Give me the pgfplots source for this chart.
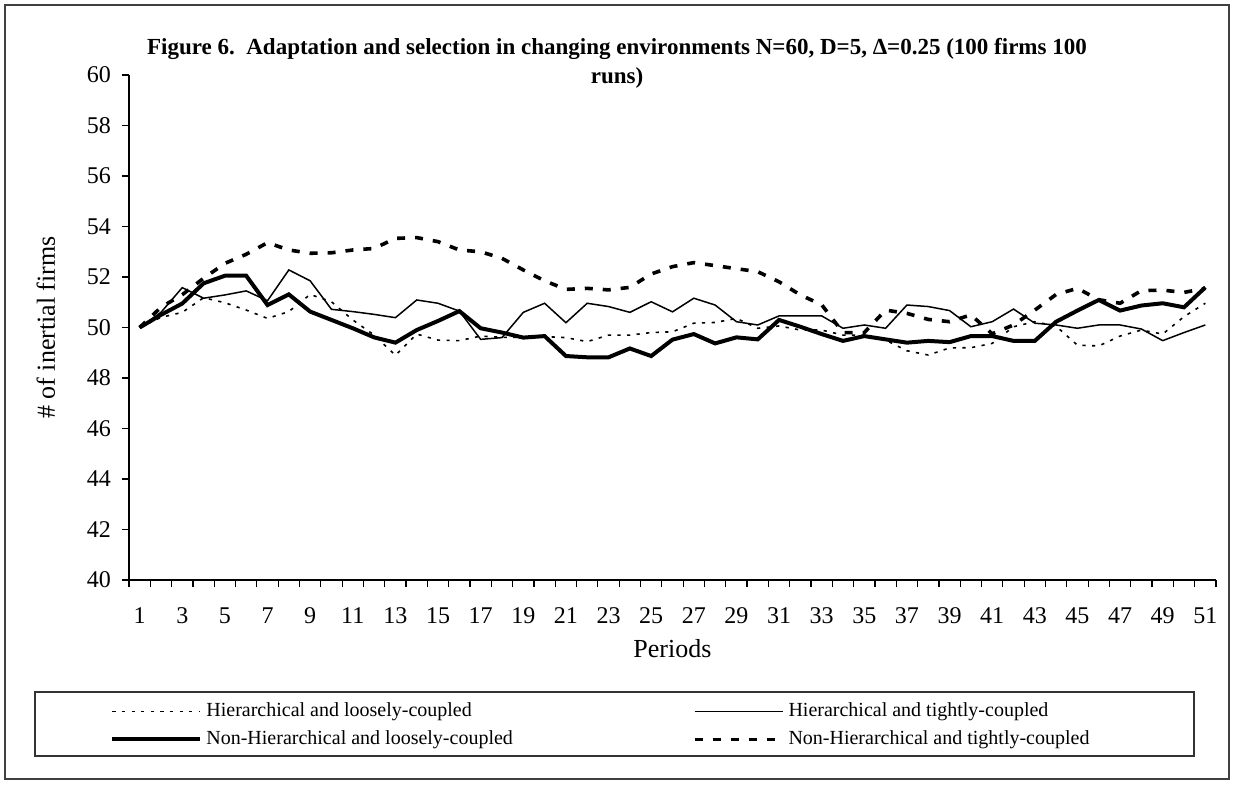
\documentclass[border=0pt]{standalone}
\usepackage{pgfplots}
\pgfplotsset{compat=1.18}
\usepackage{pgfplotstable}
\usepackage{fontspec}
\setmainfont{Liberation Serif}

\pgfplotstableread{
p hl ht nl nt
1 50.00 50.00 50.00 50.00
2 50.40 50.60 50.50 50.80
3 50.60 51.58 50.95 51.30
4 51.18 51.16 51.75 51.95
5 50.98 51.29 52.05 52.54
6 50.69 51.45 52.05 52.90
7 50.36 51.06 50.89 53.36
8 50.63 52.28 51.31 53.07
9 51.31 51.85 50.63 52.94
10 51.02 50.72 50.30 52.96
11 50.30 50.63 49.97 53.07
12 49.70 50.52 49.61 53.13
13 48.90 50.39 49.40 53.53
14 49.74 51.09 49.90 53.56
15 49.50 50.96 50.26 53.40
16 49.48 50.65 50.65 53.07
17 49.66 49.53 49.97 53.00
18 49.61 49.60 49.80 52.74
19 49.61 50.60 49.60 52.28
20 49.64 50.96 49.66 51.85
21 49.60 50.19 48.87 51.51
22 49.44 50.96 48.82 51.55
23 49.70 50.83 48.82 51.49
24 49.70 50.60 49.17 51.59
25 49.80 51.02 48.87 52.12
26 49.83 50.62 49.52 52.41
27 50.17 51.16 49.74 52.57
28 50.20 50.89 49.37 52.45
29 50.36 50.23 49.61 52.33
30 49.97 50.10 49.53 52.21
31 50.06 50.46 50.30 51.81
32 49.90 50.46 50.03 51.29
33 49.90 50.46 49.74 50.90
34 49.70 49.97 49.47 49.80
35 49.70 50.10 49.66 49.80
36 49.50 49.97 49.53 50.69
37 49.08 50.89 49.40 50.56
38 48.91 50.83 49.47 50.32
39 49.19 50.67 49.42 50.23
40 49.20 50.03 49.66 50.50
41 49.37 50.23 49.66 49.75
42 50.03 50.73 49.47 50.10
43 50.23 50.17 49.47 50.69
44 50.05 50.10 50.23 51.31
45 49.30 49.97 50.67 51.55
46 49.27 50.10 51.09 51.10
47 49.66 50.10 50.67 50.96
48 49.90 49.94 50.87 51.46
49 49.74 49.48 50.96 51.48
50 50.43 49.80 50.80 51.39
51 50.96 50.10 51.59 51.55
}\datatable

\begin{document}
\begin{tikzpicture}
\useasboundingbox (-64.5pt,-102pt) rectangle (552pt,290pt);
\draw[line width=0.9pt, black!75] (-62pt,-99.5pt) rectangle (550pt,287.5pt);
\draw[line width=0.7pt, black!80] (-47pt,-56pt) rectangle (532.5pt,-88pt);
\node[font=\bfseries\fontsize{11.5}{13}\selectfont] at (244pt,265.5pt) {Figure 6.\ \ Adaptation and selection in changing environments N=60, D=5, Δ=0.25 (100 firms 100};
\node[font=\bfseries\fontsize{11.5}{13}\selectfont] at (244pt,251pt) {runs)};
\begin{axis}[
  scale only axis,
  width=543.5pt, height=252.5pt,
  xmin=0.5, xmax=51.5, ymin=40, ymax=60,
  axis x line*=bottom, axis y line*=left,
  axis line style={line width=0.6pt},
  xtick={1,3,...,51},
  minor xtick={0.5,1.5,...,51.5},
  ytick={40,42,...,60},
  minor ytick={40,42,...,60},
  major tick length=0pt, minor tick length=3.5pt,
  tick align=outside,
  tick style={black, line width=0.6pt},
  /pgf/number format/assume math mode=true,
  ticklabel style={font=\fontsize{12}{14}\selectfont},
  xticklabel style={yshift=-10.5pt},
  yticklabel style={xshift=-5.5pt},
  xlabel={Periods},
  ylabel={\# of inertial firms},
  label style={font=\fontsize{13}{15}\selectfont},
  xlabel style={yshift=-1pt},
  ylabel style={yshift=9pt},
  legend columns=2,
  legend style={draw=none, fill=none, at={(-0.0175,-0.235)}, anchor=north west,
    font=\fontsize{10}{12}\selectfont, inner sep=0pt,
    /tikz/every even column/.append style={column sep=88pt},
    row sep=1.5pt},
  legend cell align=left,
  legend image code/.code={\draw[#1] (0pt,0pt) -- (44pt,0pt);},
]
\addplot[black, line width=0.8pt, dash pattern=on 1.6pt off 3.2pt] table[x=p,y=hl] {\datatable};
\addlegendentry{Hierarchical and loosely-coupled}
\addplot[black, line width=0.75pt] table[x=p,y=ht] {\datatable};
\addlegendentry{Hierarchical and tightly-coupled}
\addplot[black, line width=2pt] table[x=p,y=nl] {\datatable};
\addlegendentry{Non-Hierarchical and loosely-coupled}
\addplot[black, line width=1.8pt, dash pattern=on 4pt off 5pt] table[x=p,y=nt] {\datatable};
\addlegendentry{Non-Hierarchical and tightly-coupled}
\end{axis}
\end{tikzpicture}
\end{document}
